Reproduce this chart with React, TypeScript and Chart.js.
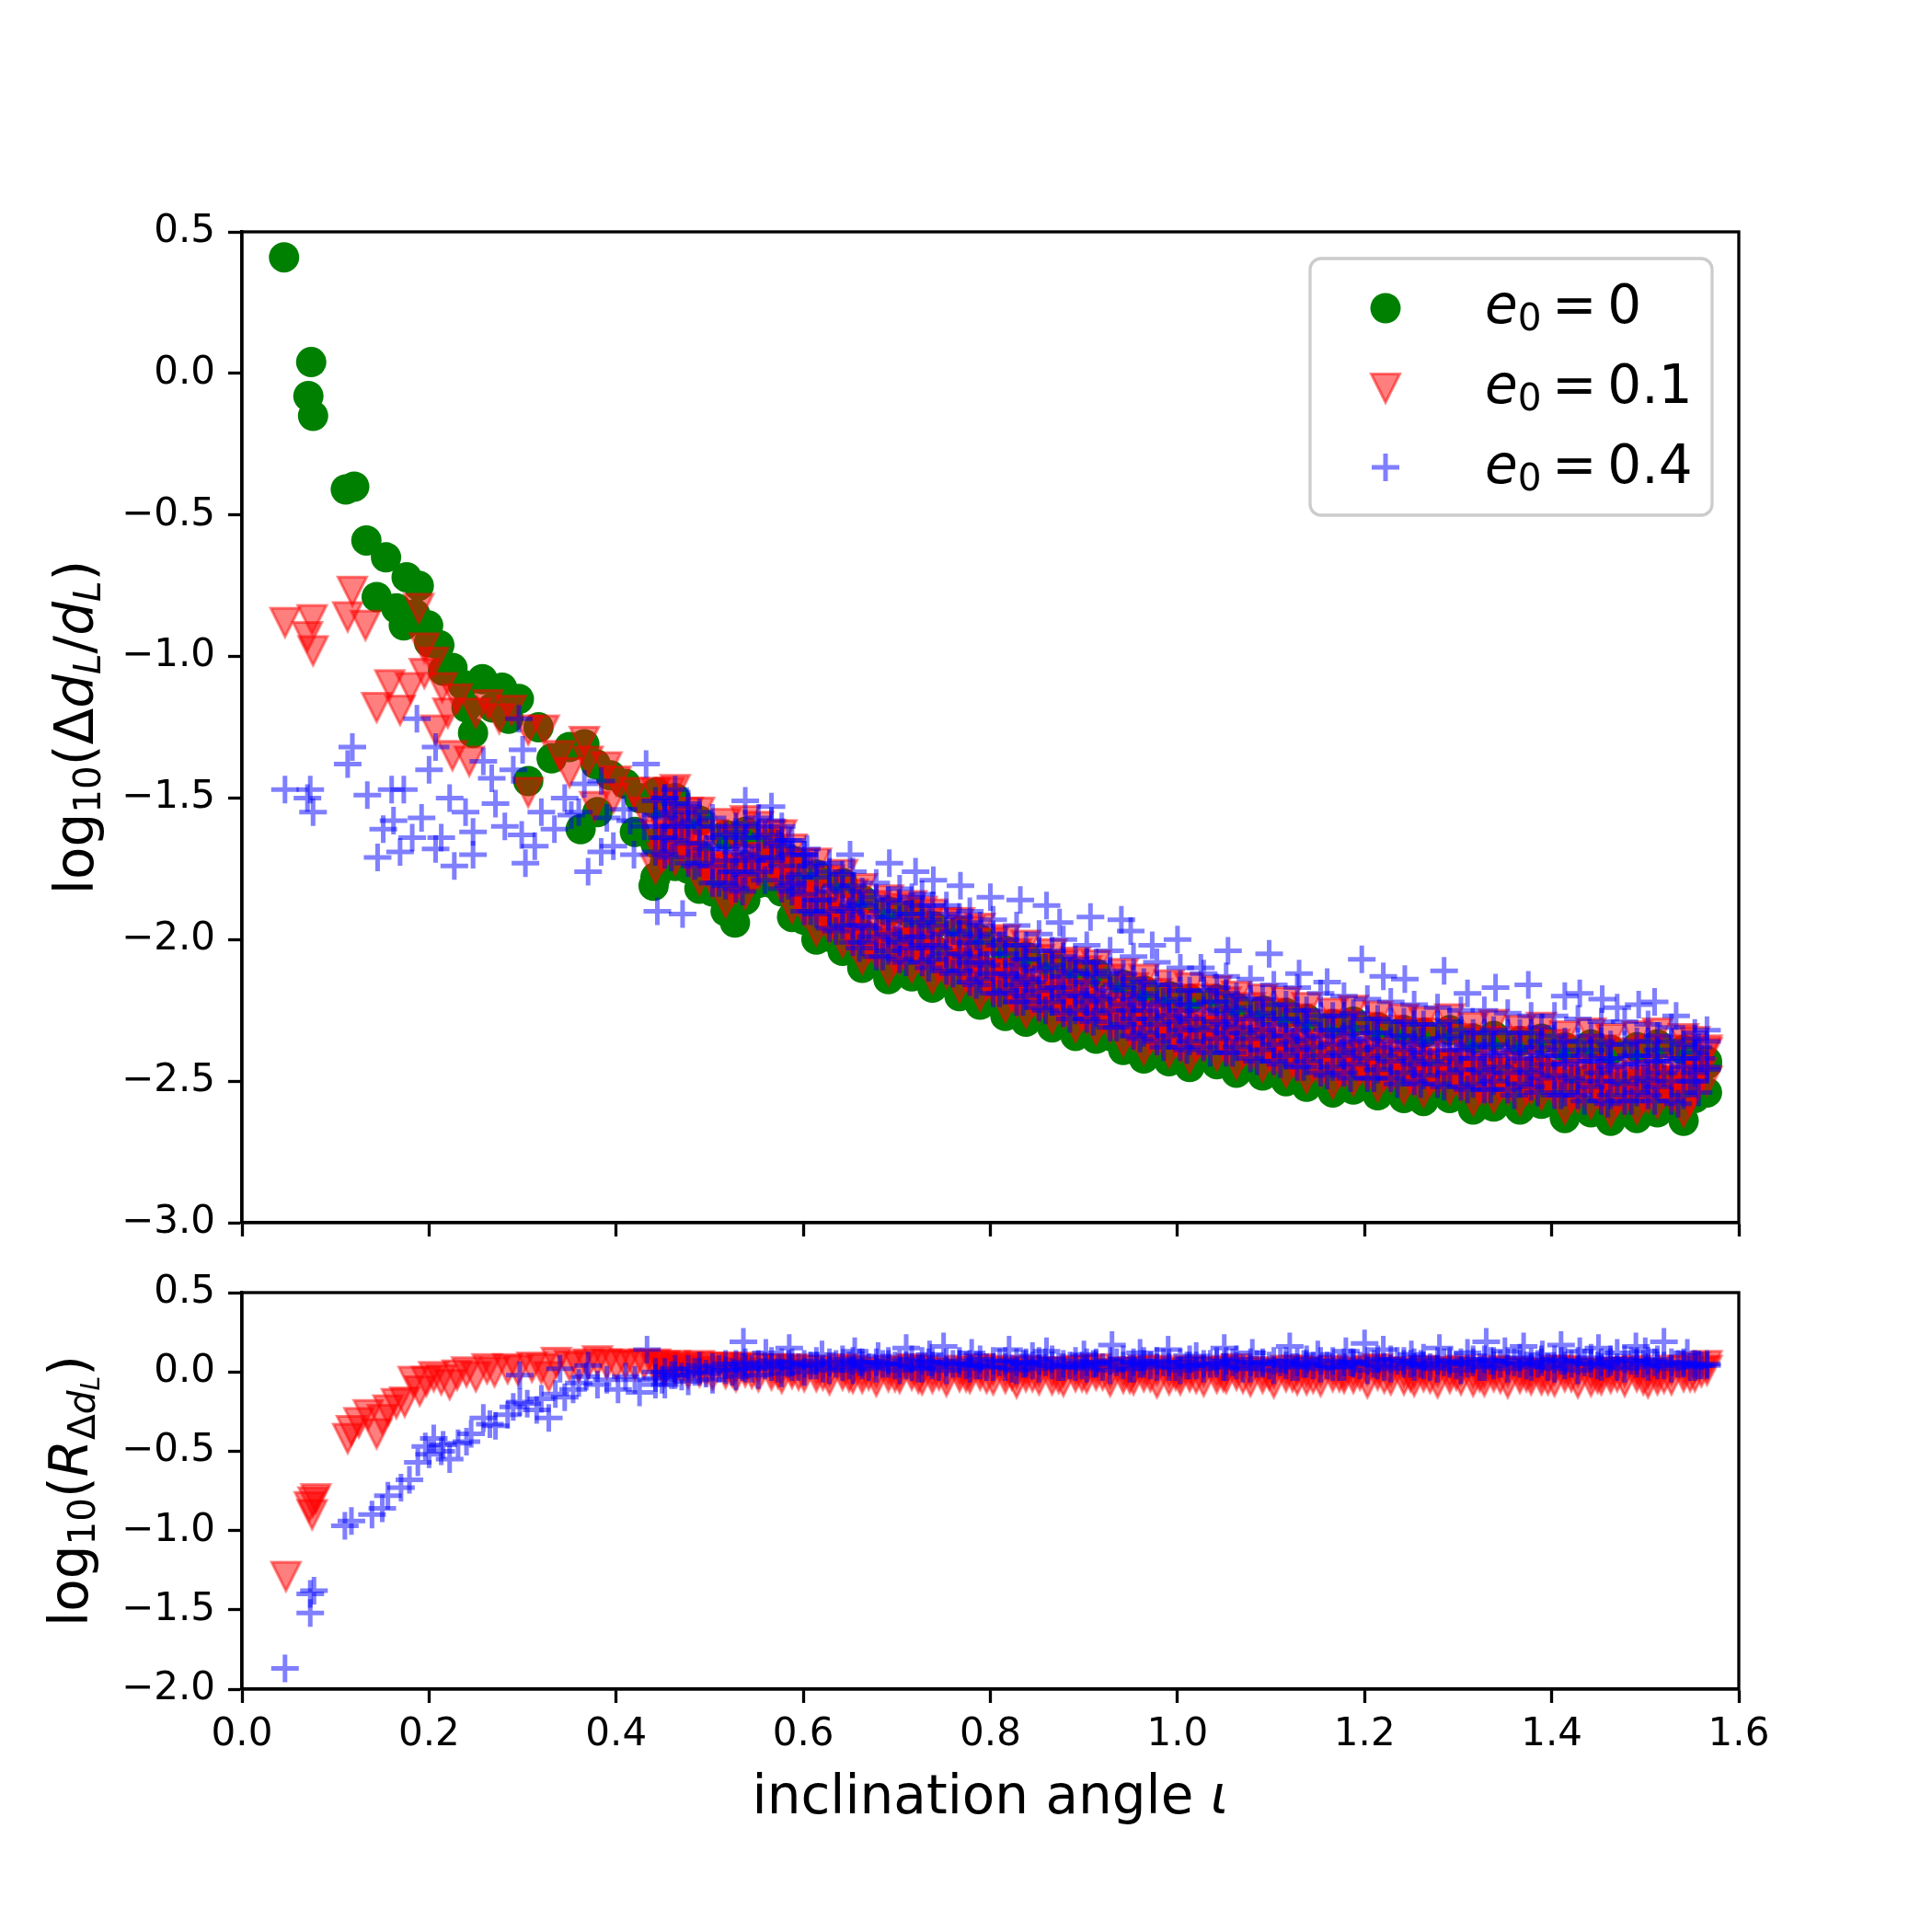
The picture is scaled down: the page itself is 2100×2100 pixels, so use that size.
import { useEffect, useRef } from "react"
import Chart from "chart.js/auto"

const FONT = '"DejaVu Sans", sans-serif'

// axis ticks
const xTicks = [0, 0.2, 0.4, 0.6, 0.8, 1.0, 1.2, 1.4, 1.6]
const yTicksTop = [-3, -2.5, -2, -1.5, -1, -0.5, 0, 0.5]
const yTicksBottom = [-2, -1.5, -1, -0.5, 0, 0.5]

// inclination columns of the dense band (iota > 0.44)
const iotaA = [
  0.442, 0.463, 0.489, 0.517, 0.538, 0.566, 0.588, 0.614, 0.642, 0.663,
  0.691, 0.716, 0.738, 0.767, 0.789, 0.816, 0.838, 0.866, 0.891, 0.913,
  0.942, 0.964, 0.991, 1.013, 1.042, 1.063, 1.091, 1.116, 1.138, 1.166,
  1.188, 1.214, 1.242, 1.263, 1.291, 1.316, 1.338, 1.366, 1.389, 1.414,
  1.442, 1.463, 1.491, 1.513, 1.541, 1.566,
]
const iotaB = [
  0.452, 0.477, 0.503, 0.528, 0.552, 0.577, 0.601, 0.628, 0.653, 0.678,
  0.703, 0.727, 0.753, 0.778, 0.803, 0.828, 0.852, 0.878, 0.903, 0.928,
  0.953, 0.978, 1.003, 1.028, 1.052, 1.078, 1.103, 1.128, 1.153, 1.178,
  1.203, 1.228, 1.253, 1.278, 1.303, 1.328, 1.353, 1.378, 1.403, 1.428,
  1.453, 1.478, 1.503, 1.528, 1.553,
]
const iotaC = [
  0.449, 0.47, 0.496, 0.524, 0.545, 0.573, 0.595, 0.621, 0.649, 0.67,
  0.698, 0.723, 0.745, 0.774, 0.796, 0.823, 0.845, 0.873, 0.898, 0.92,
  0.949, 0.971, 0.998, 1.02, 1.049, 1.07, 1.098, 1.123, 1.145, 1.173,
  1.195, 1.221, 1.249, 1.27, 1.298, 1.323, 1.345, 1.373, 1.396, 1.421,
  1.449, 1.47, 1.498, 1.52, 1.548, 1.56,
]
const iotaD = [
  0.459, 0.484, 0.51, 0.535, 0.559, 0.584, 0.608, 0.635, 0.66, 0.685,
  0.71, 0.734, 0.76, 0.785, 0.81, 0.835, 0.859, 0.885, 0.91, 0.935,
  0.96, 0.985, 1.01, 1.035, 1.059, 1.085, 1.11, 1.135, 1.16, 1.185,
  1.21, 1.235, 1.26, 1.285, 1.31, 1.335, 1.36, 1.385, 1.41, 1.435,
  1.46, 1.485, 1.51, 1.535, 1.557,
]

// ---- top panel: log10(Δd_L/d_L) ----
// e0 = 0
const g0EarlyX = [
  0.045, 0.074, 0.071, 0.076, 0.111, 0.12, 0.133, 0.154, 0.176, 0.189, 0.144, 0.165, 0.173, 0.199,
  0.211, 0.225, 0.257, 0.278, 0.247, 0.296, 0.317, 0.306, 0.331, 0.366, 0.394, 0.362, 0.443, 0.464,
  0.44, 0.527, 0.236, 0.215, 0.24, 0.268, 0.285, 0.35, 0.378, 0.41, 0.425, 0.38, 0.42, 0.2, 0.185,
]
const g0EarlyY = [
  0.41, 0.04, -0.08, -0.15, -0.41, -0.4, -0.59, -0.65, -0.72, -0.75, -0.79, -0.83, -0.89, -0.89,
  -0.96, -1.04, -1.08, -1.11, -1.27, -1.15, -1.25, -1.44, -1.36, -1.31, -1.42, -1.61, -1.48, -1.54,
  -1.81, -1.94, -1.1, -1.05, -1.18, -1.18, -1.22, -1.32, -1.38, -1.45, -1.5, -1.55, -1.62, -0.95, -0.85,
]
const g0Low = [
  -1.78, -1.74, -1.82, -1.9, -1.86, -1.8, -1.92, -2.0, -2.04, -2.1,
  -2.14, -2.13, -2.17, -2.2, -2.23, -2.27, -2.29, -2.31, -2.34, -2.35,
  -2.39, -2.42, -2.43, -2.45, -2.44, -2.47, -2.48, -2.5, -2.52, -2.54,
  -2.53, -2.55, -2.56, -2.57, -2.56, -2.6, -2.59, -2.6, -2.58, -2.63,
  -2.61, -2.64, -2.63, -2.61, -2.64, -2.54,
]
const g0LowB = [
  -1.73, -1.75, -1.83, -1.85, -1.8, -1.83, -1.93, -1.99, -2.04, -2.08,
  -2.1, -2.11, -2.15, -2.18, -2.21, -2.25, -2.27, -2.29, -2.31, -2.34,
  -2.37, -2.39, -2.41, -2.41, -2.42, -2.44, -2.46, -2.48, -2.5, -2.5,
  -2.51, -2.52, -2.53, -2.53, -2.55, -2.56, -2.56, -2.56, -2.57, -2.59,
  -2.59, -2.6, -2.59, -2.59, -2.56,
]
const g0MidA = [
  -1.66, -1.62, -1.7, -1.77, -1.74, -1.69, -1.8, -1.87, -1.93, -1.98,
  -2.01, -2.0, -2.03, -2.08, -2.1, -2.15, -2.17, -2.2, -2.22, -2.23,
  -2.27, -2.3, -2.31, -2.33, -2.32, -2.35, -2.36, -2.38, -2.4, -2.42,
  -2.41, -2.43, -2.44, -2.45, -2.44, -2.48, -2.47, -2.48, -2.46, -2.51,
  -2.49, -2.52, -2.51, -2.49, -2.52, -2.43,
]
const g0Mid = [
  -1.65, -1.7, -1.76, -1.78, -1.74, -1.82, -1.88, -1.9, -1.97, -2.02,
  -2.03, -2.04, -2.08, -2.11, -2.14, -2.17, -2.2, -2.22, -2.24, -2.26,
  -2.29, -2.31, -2.32, -2.33, -2.35, -2.36, -2.38, -2.4, -2.41, -2.42,
  -2.43, -2.44, -2.45, -2.46, -2.47, -2.48, -2.48, -2.49, -2.5, -2.5,
  -2.51, -2.52, -2.51, -2.52, -2.49,
]
const g0High = [
  -1.52, -1.5, -1.58, -1.63, -1.62, -1.66, -1.72, -1.77, -1.8, -1.86,
  -1.9, -1.91, -1.95, -1.97, -2.0, -2.04, -2.06, -2.09, -2.12, -2.12,
  -2.16, -2.18, -2.2, -2.21, -2.21, -2.24, -2.25, -2.26, -2.28, -2.3,
  -2.29, -2.31, -2.32, -2.33, -2.32, -2.35, -2.34, -2.36, -2.35, -2.38,
  -2.37, -2.39, -2.38, -2.37, -2.39, -2.44,
]

// e0 = 0.1
const r1EarlyX = [
  0.046, 0.075, 0.076, 0.07, 0.118, 0.113, 0.132, 0.189, 0.158, 0.144, 0.169, 0.18, 0.205, 0.214,
  0.207, 0.225, 0.243, 0.263, 0.288, 0.306, 0.306, 0.323, 0.366, 0.37, 0.39, 0.377, 0.397, 0.419,
  0.457, 0.468, 0.195, 0.23, 0.25, 0.275, 0.34, 0.35, 0.4, 0.43, 0.195, 0.22,
]
const r1EarlyY = [
  -0.88, -0.87, -0.98, -0.93, -0.77, -0.86, -0.89, -0.83, -1.1, -1.18, -1.19, -1.11, -1.02, -1.11,
  -1.26, -1.35, -1.37, -1.17, -1.19, -1.26, -1.48, -1.26, -1.3, -1.37, -1.39, -1.53, -1.5, -1.48,
  -1.48, -1.58, -1.06, -1.15, -1.2, -1.22, -1.35, -1.41, -1.44, -1.55, -0.97, -1.2,
]
const r1Low = [
  -1.75, -1.72, -1.79, -1.87, -1.84, -1.77, -1.89, -1.97, -2.01, -2.07,
  -2.11, -2.1, -2.14, -2.17, -2.2, -2.24, -2.26, -2.28, -2.31, -2.32,
  -2.36, -2.39, -2.4, -2.42, -2.41, -2.44, -2.45, -2.47, -2.49, -2.51,
  -2.5, -2.52, -2.53, -2.54, -2.53, -2.57, -2.56, -2.57, -2.55, -2.6,
  -2.58, -2.61, -2.6, -2.58, -2.61, -2.5,
]
const r1LowB = [
  -1.7, -1.72, -1.8, -1.82, -1.77, -1.8, -1.9, -1.96, -2.01, -2.05,
  -2.07, -2.08, -2.12, -2.15, -2.18, -2.22, -2.24, -2.26, -2.28, -2.31,
  -2.34, -2.36, -2.38, -2.38, -2.39, -2.41, -2.43, -2.45, -2.47, -2.47,
  -2.48, -2.49, -2.5, -2.5, -2.52, -2.53, -2.53, -2.53, -2.54, -2.56,
  -2.56, -2.57, -2.56, -2.56, -2.53,
]
const r1LowC = [
  -1.71, -1.67, -1.75, -1.83, -1.79, -1.73, -1.85, -1.93, -1.97, -2.03,
  -2.07, -2.06, -2.1, -2.13, -2.16, -2.2, -2.22, -2.24, -2.27, -2.28,
  -2.32, -2.35, -2.36, -2.38, -2.37, -2.4, -2.41, -2.43, -2.45, -2.47,
  -2.46, -2.48, -2.49, -2.5, -2.49, -2.53, -2.52, -2.53, -2.51, -2.56,
  -2.54, -2.57, -2.56, -2.54, -2.57, -2.47,
]
const r1Mid = [
  -1.62, -1.67, -1.74, -1.75, -1.72, -1.8, -1.85, -1.88, -1.94, -2.0,
  -2.01, -2.02, -2.05, -2.09, -2.12, -2.15, -2.18, -2.19, -2.22, -2.24,
  -2.27, -2.28, -2.3, -2.31, -2.33, -2.33, -2.36, -2.38, -2.38, -2.4,
  -2.41, -2.41, -2.43, -2.44, -2.44, -2.46, -2.45, -2.47, -2.48, -2.47,
  -2.49, -2.5, -2.48, -2.5, -2.46,
]
const r1MidD = [
  -1.64, -1.66, -1.74, -1.76, -1.71, -1.74, -1.84, -1.9, -1.95, -1.99,
  -2.01, -2.02, -2.05, -2.08, -2.12, -2.16, -2.18, -2.2, -2.22, -2.25,
  -2.28, -2.3, -2.32, -2.32, -2.33, -2.35, -2.37, -2.39, -2.41, -2.41,
  -2.42, -2.43, -2.44, -2.44, -2.46, -2.47, -2.47, -2.47, -2.48, -2.5,
  -2.5, -2.51, -2.5, -2.5, -2.47,
]
const r1MidA = [
  -1.63, -1.59, -1.67, -1.75, -1.71, -1.65, -1.77, -1.85, -1.89, -1.95,
  -1.98, -1.97, -2.0, -2.04, -2.07, -2.12, -2.14, -2.16, -2.19, -2.2,
  -2.24, -2.27, -2.28, -2.3, -2.29, -2.32, -2.33, -2.35, -2.37, -2.39,
  -2.38, -2.4, -2.41, -2.42, -2.41, -2.45, -2.44, -2.45, -2.43, -2.48,
  -2.46, -2.49, -2.48, -2.46, -2.49, -2.39,
]
const r1HighB = [
  -1.53, -1.55, -1.63, -1.65, -1.6, -1.63, -1.73, -1.79, -1.84, -1.88,
  -1.89, -1.9, -1.94, -1.97, -2.01, -2.05, -2.07, -2.09, -2.11, -2.14,
  -2.17, -2.19, -2.21, -2.21, -2.22, -2.24, -2.26, -2.28, -2.3, -2.3,
  -2.31, -2.32, -2.33, -2.33, -2.35, -2.36, -2.36, -2.36, -2.37, -2.39,
  -2.39, -2.4, -2.39, -2.39, -2.36,
]
const r1High = [
  -1.48, -1.47, -1.55, -1.59, -1.58, -1.63, -1.68, -1.73, -1.77, -1.82,
  -1.86, -1.88, -1.91, -1.94, -1.96, -2.0, -2.02, -2.05, -2.08, -2.09,
  -2.12, -2.14, -2.16, -2.17, -2.18, -2.2, -2.21, -2.22, -2.24, -2.26,
  -2.25, -2.27, -2.28, -2.29, -2.28, -2.31, -2.3, -2.32, -2.31, -2.34,
  -2.33, -2.35, -2.34, -2.33, -2.35, -2.4,
]

// e0 = 0.4
const b4EarlyX = [
  0.046, 0.073, 0.076, 0.07, 0.118, 0.113, 0.134, 0.145, 0.151, 0.162, 0.169, 0.173, 0.187, 0.192,
  0.2, 0.207, 0.207, 0.213, 0.227, 0.222, 0.239, 0.247, 0.247, 0.267, 0.271, 0.281, 0.299, 0.303,
  0.313, 0.334, 0.352, 0.37, 0.384, 0.397, 0.419, 0.366, 0.296, 0.3, 0.384, 0.408, 0.16, 0.182,
  0.258, 0.29, 0.32, 0.345, 0.36, 0.39, 0.415, 0.43,
]
const b4EarlyY = [
  -1.47, -1.47, -1.55, -1.5, -1.32, -1.38, -1.49, -1.71, -1.61, -1.58, -1.69, -1.47, -1.22, -1.57,
  -1.4, -1.32, -1.68, -1.64, -1.74, -1.5, -1.55, -1.7, -1.62, -1.43, -1.52, -1.6, -1.63, -1.73,
  -1.67, -1.61, -1.56, -1.76, -1.69, -1.67, -1.7, -1.45, -1.22, -1.33, -1.44, -1.54, -1.47, -1.64,
  -1.37, -1.4, -1.55, -1.5, -1.55, -1.57, -1.58, -1.6,
]
const b4Low = [
  -1.7, -1.73, -1.8, -1.82, -1.76, -1.82, -1.9, -1.96, -2.01, -2.06,
  -2.07, -2.08, -2.11, -2.15, -2.19, -2.22, -2.24, -2.26, -2.28, -2.31,
  -2.34, -2.36, -2.38, -2.38, -2.4, -2.42, -2.43, -2.45, -2.47, -2.47,
  -2.49, -2.49, -2.5, -2.51, -2.52, -2.53, -2.53, -2.52, -2.55, -2.55,
  -2.57, -2.57, -2.55, -2.57, -2.5,
]
const b4LowD = [
  -1.71, -1.74, -1.8, -1.83, -1.79, -1.81, -1.9, -1.97, -2.03, -2.06,
  -2.08, -2.1, -2.12, -2.16, -2.19, -2.22, -2.25, -2.28, -2.29, -2.31,
  -2.35, -2.38, -2.39, -2.4, -2.4, -2.43, -2.44, -2.45, -2.48, -2.49,
  -2.49, -2.51, -2.51, -2.52, -2.53, -2.53, -2.55, -2.54, -2.55, -2.57,
  -2.58, -2.57, -2.57, -2.58, -2.54,
]
const b4LowA = [
  -1.69, -1.65, -1.73, -1.81, -1.77, -1.71, -1.83, -1.91, -1.95, -2.01,
  -2.04, -2.03, -2.07, -2.11, -2.14, -2.18, -2.2, -2.22, -2.25, -2.26,
  -2.3, -2.33, -2.34, -2.36, -2.35, -2.38, -2.39, -2.41, -2.43, -2.45,
  -2.44, -2.46, -2.47, -2.48, -2.47, -2.51, -2.5, -2.51, -2.49, -2.54,
  -2.52, -2.55, -2.54, -2.52, -2.55, -2.45,
]
const b4LowMidB = [
  -1.64, -1.66, -1.74, -1.76, -1.71, -1.74, -1.84, -1.9, -1.95, -1.99,
  -2.01, -2.02, -2.05, -2.08, -2.12, -2.16, -2.18, -2.2, -2.22, -2.25,
  -2.28, -2.3, -2.32, -2.32, -2.33, -2.35, -2.37, -2.39, -2.41, -2.41,
  -2.42, -2.43, -2.44, -2.44, -2.46, -2.47, -2.47, -2.47, -2.48, -2.5,
  -2.5, -2.51, -2.5, -2.5, -2.47,
]
const b4MidC = [
  -1.64, -1.6, -1.68, -1.76, -1.72, -1.66, -1.78, -1.86, -1.9, -1.96,
  -2.0, -1.99, -2.03, -2.06, -2.09, -2.13, -2.15, -2.17, -2.2, -2.21,
  -2.25, -2.28, -2.29, -2.31, -2.3, -2.33, -2.34, -2.36, -2.38, -2.4,
  -2.39, -2.41, -2.42, -2.43, -2.42, -2.46, -2.45, -2.46, -2.44, -2.49,
  -2.47, -2.5, -2.49, -2.47, -2.5, -2.42,
]
const b4Mid = [
  -1.6, -1.6, -1.66, -1.72, -1.7, -1.72, -1.8, -1.86, -1.89, -1.95,
  -1.98, -1.99, -2.02, -2.05, -2.08, -2.12, -2.14, -2.17, -2.19, -2.2,
  -2.23, -2.25, -2.27, -2.28, -2.29, -2.31, -2.32, -2.34, -2.35, -2.37,
  -2.36, -2.38, -2.39, -2.4, -2.39, -2.42, -2.41, -2.42, -2.41, -2.44,
  -2.43, -2.45, -2.44, -2.43, -2.45, -2.46,
]
const b4MidB = [
  -1.57, -1.59, -1.67, -1.69, -1.64, -1.67, -1.77, -1.83, -1.88, -1.92,
  -1.93, -1.94, -1.98, -2.01, -2.05, -2.09, -2.11, -2.13, -2.15, -2.18,
  -2.21, -2.23, -2.25, -2.25, -2.26, -2.28, -2.3, -2.32, -2.34, -2.34,
  -2.35, -2.36, -2.37, -2.37, -2.39, -2.4, -2.4, -2.4, -2.41, -2.43,
  -2.43, -2.44, -2.43, -2.43, -2.4,
]
const b4UpperD = [
  -1.55, -1.58, -1.64, -1.67, -1.63, -1.65, -1.74, -1.81, -1.87, -1.9,
  -1.91, -1.93, -1.97, -1.99, -2.02, -2.07, -2.1, -2.11, -2.12, -2.16,
  -2.19, -2.22, -2.23, -2.22, -2.24, -2.27, -2.28, -2.29, -2.32, -2.33,
  -2.33, -2.34, -2.36, -2.35, -2.37, -2.38, -2.39, -2.38, -2.39, -2.41,
  -2.42, -2.41, -2.41, -2.42, -2.38,
]
const b4UpperA = [
  -1.56, -1.52, -1.6, -1.68, -1.64, -1.58, -1.7, -1.78, -1.82, -1.88,
  -1.92, -1.91, -1.95, -1.98, -2.01, -2.05, -2.07, -2.09, -2.12, -2.13,
  -2.17, -2.2, -2.21, -2.23, -2.22, -2.25, -2.26, -2.28, -2.3, -2.32,
  -2.31, -2.33, -2.34, -2.35, -2.34, -2.38, -2.37, -2.38, -2.36, -2.41,
  -2.39, -2.42, -2.41, -2.39, -2.42, -2.36,
]
const b4HighA = [
  -1.51, -1.47, -1.55, -1.63, -1.59, -1.53, -1.65, -1.73, -1.77, -1.83,
  -1.86, -1.85, -1.88, -1.92, -1.95, -2.0, -2.02, -2.04, -2.07, -2.08,
  -2.12, -2.15, -2.16, -2.18, -2.17, -2.2, -2.21, -2.23, -2.25, -2.27,
  -2.26, -2.28, -2.29, -2.3, -2.29, -2.33, -2.32, -2.33, -2.31, -2.36,
  -2.34, -2.37, -2.36, -2.34, -2.37, -2.32,
]
const b4UpperB = [
  -1.5, -1.52, -1.6, -1.62, -1.57, -1.6, -1.7, -1.76, -1.81, -1.85,
  -1.87, -1.88, -1.91, -1.94, -1.98, -2.02, -2.04, -2.06, -2.08, -2.11,
  -2.14, -2.16, -2.18, -2.18, -2.19, -2.21, -2.23, -2.25, -2.27, -2.27,
  -2.28, -2.29, -2.3, -2.3, -2.32, -2.33, -2.33, -2.33, -2.34, -2.36,
  -2.36, -2.37, -2.36, -2.36, -2.33,
]
const b4High = [
  -1.5, -1.53, -1.57, -1.6, -1.6, -1.65, -1.7, -1.73, -1.76, -1.8,
  -1.82, -1.84, -1.88, -1.9, -1.93, -1.95, -1.98, -2.0, -2.02, -2.04,
  -2.06, -2.08, -2.1, -2.12, -2.13, -2.14, -2.16, -2.17, -2.19, -2.2,
  -2.21, -2.22, -2.23, -2.24, -2.25, -2.25, -2.26, -2.27, -2.27, -2.28,
  -2.29, -2.29, -2.3, -2.31, -2.35,
]
const b4StrayX = [
  0.432, 0.538, 0.604, 0.65, 0.692, 0.739, 0.768, 0.832, 0.874, 0.907, 0.94, 0.973, 1.025,
  1.054, 1.098, 1.197, 1.243, 1.285, 1.375, 1.414, 1.454, 1.493, 1.533, 0.444, 0.471,
  1.13, 1.16, 1.22, 1.31, 1.34, 1.43, 1.47, 1.51, 0.72, 0.8, 0.86, 0.95, 1.0,
]
const b4StrayY = [
  -1.38, -1.51, -1.68, -1.7, -1.73, -1.79, -1.81, -1.86, -1.94, -1.92, -1.93, -2.02, -2.1,
  -2.04, -2.05, -2.07, -2.14, -2.11, -2.16, -2.2, -2.21, -2.23, -2.27, -1.9, -1.91,
  -2.12, -2.15, -2.13, -2.19, -2.17, -2.19, -2.24, -2.22, -1.76, -1.85, -1.88, -1.97, -2.0,
]

// ---- bottom panel: log10(R_Δd_L) ----
const rr1EarlyX = [
  0.047, 0.076, 0.075, 0.072, 0.079, 0.113, 0.117, 0.144, 0.135, 0.156, 0.174, 0.183, 0.205, 0.222,
  0.24, 0.262, 0.284, 0.328, 0.336, 0.38, 0.125, 0.15, 0.165, 0.19, 0.197, 0.213, 0.23, 0.25, 0.27,
  0.295, 0.31, 0.32, 0.35, 0.36, 0.37, 0.39, 0.4, 0.41, 0.42, 0.43,
]
const rr1EarlyY = [
  -1.29, -0.82, -0.9, -0.85, -0.8, -0.42, -0.37, -0.39, -0.27, -0.24, -0.19, -0.06, -0.03, -0.08,
  0.0, 0.02, 0.02, -0.03, 0.06, 0.07, -0.32, -0.3, -0.2, -0.12, -0.06, -0.05, -0.02, -0.03, 0.0,
  0.01, 0.03, 0.02, 0.04, 0.03, 0.05, 0.05, 0.04, 0.05, 0.04, 0.05,
]
const rr1Low = [
  0.02, 0.01, 0.0, -0.01, 0.0, -0.02, -0.01, -0.03, -0.02, -0.04,
  -0.03, -0.02, -0.04, -0.03, -0.02, -0.04, -0.03, -0.05, -0.03, -0.02,
  -0.04, -0.03, -0.05, -0.03, -0.04, -0.02, -0.04, -0.03, -0.05, -0.03,
  -0.04, -0.02, -0.05, -0.03, -0.04, -0.06, -0.03, -0.04, -0.05, -0.03,
  -0.06, -0.04, -0.03, -0.05, -0.03, 0.01,
]
const rr1LowC = [
  0.03, 0.02, 0.01, 0.0, -0.01, -0.01, -0.02, -0.02, -0.03, -0.02,
  -0.03, -0.04, -0.02, -0.03, -0.04, -0.02, -0.03, -0.04, -0.03, -0.02,
  -0.04, -0.03, -0.02, -0.04, -0.03, -0.04, -0.02, -0.03, -0.04, -0.03,
  -0.02, -0.04, -0.03, -0.04, -0.02, -0.03, -0.04, -0.03, -0.05, -0.03,
  -0.04, -0.03, -0.05, -0.04, -0.03, 0.0,
]
const rr1Bottom = [
  0.0, -0.01, -0.02, -0.03, -0.03, -0.04, -0.03, -0.05, -0.04, -0.06,
  -0.04, -0.05, -0.06, -0.04, -0.05, -0.07, -0.05, -0.06, -0.04, -0.06,
  -0.05, -0.07, -0.05, -0.06, -0.04, -0.06, -0.07, -0.05, -0.06, -0.04,
  -0.07, -0.05, -0.06, -0.07, -0.05, -0.06, -0.07, -0.05, -0.06, -0.07,
  -0.05, -0.06, -0.07, -0.05, -0.03,
]
const rr1Mid = [
  0.05, 0.04, 0.04, 0.03, 0.03, 0.02, 0.02, 0.01, 0.02, 0.0,
  0.01, 0.02, 0.0, 0.01, 0.02, 0.0, 0.01, 0.0, 0.01, 0.02,
  0.0, 0.01, 0.0, 0.01, 0.0, 0.02, 0.0, 0.01, 0.0, 0.01,
  0.0, 0.02, 0.0, 0.01, 0.0, -0.01, 0.01, 0.0, -0.01, 0.01,
  -0.01, 0.0, 0.01, -0.01, 0.01, 0.04,
]
const rr1High = [
  0.04, 0.03, 0.03, 0.02, 0.02, 0.01, 0.01, 0.0, 0.01, -0.01,
  0.0, 0.01, -0.01, 0.0, 0.01, -0.01, 0.0, 0.0, 0.01, -0.01,
  0.0, 0.01, -0.01, 0.0, 0.01, 0.0, -0.01, 0.01, 0.0, -0.01,
  0.01, 0.0, -0.01, 0.0, 0.01, -0.01, 0.0, -0.01, 0.01, 0.0,
  -0.01, 0.0, -0.01, 0.01, 0.03,
]
const rb4EarlyX = [
  0.046, 0.073, 0.073, 0.077, 0.11, 0.117, 0.139, 0.15, 0.156, 0.17, 0.179, 0.188, 0.196, 0.205,
  0.213, 0.222, 0.231, 0.245, 0.258, 0.271, 0.284, 0.297, 0.297, 0.315, 0.328, 0.345, 0.354, 0.368,
  0.38, 0.402, 0.425, 0.442, 0.34, 0.37, 0.2, 0.215, 0.24, 0.265, 0.29, 0.305, 0.32, 0.335, 0.36,
  0.39, 0.41, 0.433, 0.42,
]
const rb4EarlyY = [
  -1.87, -1.4, -1.52, -1.38, -0.97, -0.94, -0.9, -0.86, -0.78, -0.73, -0.68, -0.57, -0.47, -0.42,
  -0.5, -0.55, -0.45, -0.39, -0.29, -0.34, -0.27, -0.19, -0.02, -0.24, -0.29, -0.16, -0.11, -0.03,
  -0.08, -0.11, -0.13, -0.08, 0.02, 0.04, -0.52, -0.46, -0.44, -0.33, -0.22, -0.2, -0.17, -0.14, -0.07,
  -0.05, -0.03, 0.14, -0.05,
]
const rb4Low = [
  -0.08, -0.06, -0.05, -0.03, -0.02, -0.01, 0.0, 0.01, 0.01, 0.02,
  0.01, 0.02, 0.01, 0.02, 0.03, 0.01, 0.02, 0.03, 0.02, 0.01,
  0.02, 0.03, 0.01, 0.02, 0.03, 0.02, 0.01, 0.03, 0.02, 0.03,
  0.01, 0.02, 0.03, 0.02, 0.01, 0.03, 0.02, 0.03, 0.02, 0.01,
  0.03, 0.02, 0.03, 0.02, 0.03,
]
const rb4LowC = [
  -0.05, -0.03, -0.01, 0.0, 0.02, 0.02, 0.03, 0.02, 0.04, 0.03,
  0.04, 0.02, 0.03, 0.04, 0.03, 0.02, 0.04, 0.03, 0.04, 0.03,
  0.02, 0.04, 0.03, 0.04, 0.03, 0.02, 0.04, 0.03, 0.04, 0.03,
  0.04, 0.03, 0.05, 0.03, 0.04, 0.03, 0.05, 0.04, 0.03, 0.05,
  0.04, 0.03, 0.05, 0.04, 0.03, 0.04,
]
const rb4Mid = [
  -0.04, -0.02, 0.0, 0.01, 0.02, 0.03, 0.03, 0.04, 0.03, 0.04,
  0.05, 0.03, 0.04, 0.05, 0.04, 0.03, 0.05, 0.04, 0.03, 0.05,
  0.04, 0.05, 0.03, 0.04, 0.05, 0.04, 0.05, 0.04, 0.05, 0.03,
  0.05, 0.04, 0.05, 0.04, 0.05, 0.06, 0.04, 0.05, 0.06, 0.04,
  0.05, 0.06, 0.05, 0.04, 0.05, 0.04,
]
const rb4MidD = [
  -0.02, 0.0, 0.02, 0.03, 0.04, 0.05, 0.04, 0.05, 0.06, 0.05,
  0.04, 0.06, 0.05, 0.04, 0.06, 0.05, 0.06, 0.04, 0.05, 0.06,
  0.05, 0.06, 0.04, 0.05, 0.06, 0.05, 0.06, 0.05, 0.04, 0.06,
  0.05, 0.07, 0.05, 0.06, 0.05, 0.07, 0.06, 0.05, 0.07, 0.06,
  0.05, 0.07, 0.06, 0.05, 0.04,
]
const rb4High = [
  0.0, 0.02, 0.03, 0.05, 0.05, 0.06, 0.05, 0.06, 0.07, 0.06,
  0.05, 0.07, 0.06, 0.05, 0.07, 0.06, 0.07, 0.05, 0.06, 0.07,
  0.06, 0.07, 0.06, 0.05, 0.07, 0.06, 0.07, 0.06, 0.07, 0.06,
  0.07, 0.08, 0.06, 0.07, 0.06, 0.08, 0.07, 0.06, 0.08, 0.07,
  0.06, 0.08, 0.07, 0.06, 0.05,
]
const rb4Top = [
  0.0, 0.02, 0.04, 0.05, 0.06, 0.07, 0.06, 0.07, 0.08, 0.06,
  0.07, 0.08, 0.06, 0.07, 0.08, 0.07, 0.06, 0.08, 0.07, 0.06,
  0.08, 0.07, 0.06, 0.08, 0.07, 0.08, 0.06, 0.07, 0.08, 0.07,
  0.06, 0.08, 0.07, 0.09, 0.07, 0.08, 0.07, 0.09, 0.08, 0.07,
  0.09, 0.08, 0.07, 0.08, 0.06, 0.05,
]
const rb4StrayX = [
  0.536, 0.56, 0.585, 0.62, 0.655, 0.68, 0.71, 0.735, 0.75, 0.78,
  0.82, 0.845, 0.86, 0.9, 0.93, 0.96, 0.99, 1.02, 1.05, 1.08,
  1.12, 1.15, 1.18, 1.2, 1.22, 1.25, 1.28, 1.31, 1.33, 1.35,
  1.37, 1.39, 1.41, 1.43, 1.45, 1.47, 1.49, 1.5, 1.52, 1.545,
]
const rb4StrayY = [
  0.19, 0.12, 0.15, 0.11, 0.13, 0.1, 0.15, 0.11, 0.16, 0.12,
  0.14, 0.1, 0.13, 0.11, 0.17, 0.12, 0.14, 0.1, 0.15, 0.12,
  0.16, 0.11, 0.13, 0.18, 0.14, 0.11, 0.15, 0.12, 0.19, 0.13,
  0.16, 0.11, 0.17, 0.13, 0.15, 0.12, 0.16, 0.13, 0.19, 0.12,
]

const GREEN = "#008000"
const RED = "rgba(255,0,0,0.5)"
const BLUE = "rgba(0,0,255,0.5)"

// figure frame in pixels (2100 x 2100 figure)
const LEFT = 263
const RIGHT = 1890
const TOP1 = 252
const BOTTOM1 = 1329
const TOP2 = 1405
const BOTTOM2 = 1836

const pts = (xs: number[], ys: number[]) => xs.map((x, i) => ({ x, y: ys[i] }))
const fmt = (v: number | string) => Number(v).toFixed(1).replace("-", "\u2212")

type Seg = { t: string; it?: boolean; lv?: number; pad?: number }

function drawRich(ctx: CanvasRenderingContext2D, segs: Seg[], size: number, x: number, y: number, align: "left" | "center") {
  const fontOf = (s: Seg) => `${s.it ? "italic " : ""}${(size * Math.pow(0.7, s.lv ?? 0)).toFixed(2)}px ${FONT}`
  const widths = segs.map((s) => {
    ctx.font = fontOf(s)
    return ctx.measureText(s.t).width + 2 * (s.pad ?? 0) * size
  })
  const total = widths.reduce((a, b) => a + b, 0)
  let cx = align === "center" ? x - total / 2 : x
  ctx.textAlign = "left"
  ctx.textBaseline = "alphabetic"
  ctx.fillStyle = "#000"
  segs.forEach((s, i) => {
    ctx.font = fontOf(s)
    const lv = s.lv ?? 0
    const dy = lv === 0 ? 0 : lv === 1 ? 0.13 * size : 0.22 * size
    ctx.fillText(s.t, cx + (s.pad ?? 0) * size, y + dy)
    cx += widths[i]
  })
}

function makeTriangle() {
  const c = document.createElement("canvas")
  c.width = 40
  c.height = 40
  const g = c.getContext("2d")!
  g.beginPath()
  g.moveTo(4.5, 4.5)
  g.lineTo(35.5, 4.5)
  g.lineTo(20, 35.5)
  g.closePath()
  g.fillStyle = RED
  g.fill()
  g.lineWidth = 3
  g.strokeStyle = RED
  g.stroke()
  return c
}

function xScale(labels: boolean, height: number) {
  return {
    type: "linear" as const,
    position: "bottom" as const,
    min: 0,
    max: 1.6,
    afterBuildTicks: (s: any) => {
      s.ticks = xTicks.map((value) => ({ value }))
    },
    afterFit: (s: any) => {
      s.height = height
    },
    ticks: {
      callback: (v: any) => (labels ? fmt(v) : ""),
      font: { family: FONT, size: 42 },
      color: "#000",
      padding: 10,
      maxRotation: 0,
      autoSkip: false,
    },
    grid: { display: true, drawOnChartArea: false, drawTicks: true, tickLength: 15, tickWidth: 3.3, tickColor: "#000" },
    border: { display: true, color: "#000", width: 3.3 },
  }
}

function yScale(min: number, max: number, ticks: number[]) {
  return {
    type: "linear" as const,
    position: "left" as const,
    min,
    max,
    afterBuildTicks: (s: any) => {
      s.ticks = ticks.map((value) => ({ value }))
    },
    afterFit: (s: any) => {
      s.width = LEFT
    },
    ticks: {
      callback: (v: any) => fmt(v),
      font: { family: FONT, size: 42 },
      color: "#000",
      padding: 14,
      autoSkip: false,
    },
    grid: { display: true, drawOnChartArea: false, drawTicks: true, tickLength: 15, tickWidth: 3.3, tickColor: "#000" },
    border: { display: true, color: "#000", width: 3.3 },
  }
}

const framePlugin = {
  id: "frame",
  afterDatasetsDraw(chart: Chart) {
    const { ctx, chartArea: a } = chart
    ctx.save()
    ctx.strokeStyle = "#000"
    ctx.lineWidth = 3.3
    ctx.strokeRect(a.left, a.top, a.right - a.left, a.bottom - a.top)
    ctx.restore()
  },
}

const App = () => {
  const topRef = useRef<HTMLCanvasElement>(null)
  const botRef = useRef<HTMLCanvasElement>(null)

  useEffect(() => {
    if (!topRef.current || !botRef.current) return
    Chart.defaults.font.family = FONT
    const tri = makeTriangle()

    const legendLabels: Seg[][] = [
      [{ t: "e", it: true }, { t: "0", lv: 1 }, { t: "=", pad: 0.2 }, { t: "0" }],
      [{ t: "e", it: true }, { t: "0", lv: 1 }, { t: "=", pad: 0.2 }, { t: "0.1" }],
      [{ t: "e", it: true }, { t: "0", lv: 1 }, { t: "=", pad: 0.2 }, { t: "0.4" }],
    ]

    const topDecor = {
      id: "topDecor",
      afterDraw(chart: Chart) {
        const ctx = chart.ctx
        ctx.save()
        // legend frame
        const x0 = 1424, y0 = 281, x1 = 1861, y1 = 560, rr = 12
        ctx.beginPath()
        ctx.moveTo(x0 + rr, y0)
        ctx.arcTo(x1, y0, x1, y1, rr)
        ctx.arcTo(x1, y1, x0, y1, rr)
        ctx.arcTo(x0, y1, x0, y0, rr)
        ctx.arcTo(x0, y0, x1, y0, rr)
        ctx.closePath()
        ctx.fillStyle = "rgba(255,255,255,0.8)"
        ctx.fill()
        ctx.strokeStyle = "#cccccc"
        ctx.lineWidth = 3.3
        ctx.stroke()
        // legend markers
        ctx.beginPath()
        ctx.arc(1506, 335, 16.5, 0, Math.PI * 2)
        ctx.fillStyle = GREEN
        ctx.fill()
        ctx.drawImage(tri, 1506 - 20, 422 - 20)
        ctx.beginPath()
        ctx.moveTo(1491, 508)
        ctx.lineTo(1521, 508)
        ctx.moveTo(1506, 493)
        ctx.lineTo(1506, 523)
        ctx.strokeStyle = BLUE
        ctx.lineWidth = 5
        ctx.stroke()
        // legend text
        const bases = [351, 438, 525]
        legendLabels.forEach((segs, i) => drawRich(ctx, segs, 58, 1614, bases[i], "left"))
        // y label, top panel
        ctx.translate(101, (TOP1 + BOTTOM1) / 2)
        ctx.rotate(-Math.PI / 2)
        drawRich(
          ctx,
          [
            { t: "log" }, { t: "10", lv: 1 }, { t: "(Δ" }, { t: "d", it: true }, { t: "L", it: true, lv: 1 },
            { t: "/" }, { t: "d", it: true }, { t: "L", it: true, lv: 1 }, { t: ")" },
          ],
          58, 0, 0, "center",
        )
        ctx.restore()
      },
    }

    const botDecor = {
      id: "botDecor",
      afterDraw(chart: Chart) {
        const ctx = chart.ctx
        ctx.save()
        drawRich(ctx, [{ t: "inclination angle " }, { t: "ι", it: true }], 58, (LEFT + RIGHT) / 2, 1971, "center")
        ctx.translate(95, (TOP2 + BOTTOM2) / 2)
        ctx.rotate(-Math.PI / 2)
        drawRich(
          ctx,
          [
            { t: "log" }, { t: "10", lv: 1 }, { t: "(" }, { t: "R", it: true }, { t: "Δ", lv: 1 },
            { t: "d", it: true, lv: 1 }, { t: "L", it: true, lv: 2 }, { t: ")" },
          ],
          58, 0, 0, "center",
        )
        ctx.restore()
      },
    }

    const greenSet = {
      label: "e0 = 0",
      data: [
        ...pts(g0EarlyX, g0EarlyY), ...pts(iotaA, g0Low), ...pts(iotaB, g0LowB), ...pts(iotaA, g0MidA),
        ...pts(iotaB, g0Mid), ...pts(iotaA, g0High),
      ],
      pointStyle: "circle" as const,
      pointRadius: 16.5,
      pointBackgroundColor: GREEN,
      pointBorderWidth: 0,
    }
    const redTop = {
      label: "e0 = 0.1",
      data: [
        ...pts(r1EarlyX, r1EarlyY), ...pts(iotaA, r1Low), ...pts(iotaB, r1LowB), ...pts(iotaC, r1LowC),
        ...pts(iotaB, r1Mid), ...pts(iotaD, r1MidD), ...pts(iotaA, r1MidA), ...pts(iotaB, r1HighB),
        ...pts(iotaA, r1High),
      ],
      pointStyle: tri,
      pointRadius: 18,
    }
    const blueTop = {
      label: "e0 = 0.4",
      data: [
        ...pts(b4EarlyX, b4EarlyY), ...pts(iotaB, b4Low), ...pts(iotaD, b4LowD), ...pts(iotaA, b4LowA),
        ...pts(iotaB, b4LowMidB), ...pts(iotaC, b4MidC), ...pts(iotaA, b4Mid), ...pts(iotaB, b4MidB),
        ...pts(iotaD, b4UpperD), ...pts(iotaA, b4UpperA), ...pts(iotaA, b4HighA), ...pts(iotaB, b4UpperB),
        ...pts(iotaB, b4High), ...pts(b4StrayX, b4StrayY),
      ],
      pointStyle: "cross" as const,
      pointRadius: 15,
      pointBorderColor: BLUE,
      pointBorderWidth: 5,
    }
    const redBot = {
      label: "e0 = 0.1",
      data: [
        ...pts(rr1EarlyX, rr1EarlyY), ...pts(iotaB, rr1Bottom), ...pts(iotaA, rr1Low), ...pts(iotaC, rr1LowC),
        ...pts(iotaB, rr1High), ...pts(iotaA, rr1Mid),
      ],
      pointStyle: tri,
      pointRadius: 18,
    }
    const blueBot = {
      label: "e0 = 0.4",
      data: [
        ...pts(rb4EarlyX, rb4EarlyY), ...pts(iotaB, rb4Low), ...pts(iotaC, rb4LowC), ...pts(iotaA, rb4Mid),
        ...pts(iotaD, rb4MidD), ...pts(iotaB, rb4High), ...pts(iotaA, rb4Top), ...pts(rb4StrayX, rb4StrayY),
      ],
      pointStyle: "cross" as const,
      pointRadius: 15,
      pointBorderColor: BLUE,
      pointBorderWidth: 5,
    }

    const common = {
      responsive: false,
      animation: false as const,
      devicePixelRatio: 1,
      events: [] as any[],
      plugins: { legend: { display: false }, tooltip: { enabled: false } },
    }

    // datasets listed last-drawn-first: blue ends on top of red, red on top of green
    const top = new Chart(topRef.current, {
      type: "scatter",
      data: { datasets: [blueTop, redTop, greenSet] as any },
      options: {
        ...common,
        layout: { padding: { left: 0, right: 2100 - RIGHT, top: TOP1, bottom: 2100 - BOTTOM1 - 40 } },
        scales: { x: xScale(false, 40), y: yScale(-3, 0.5, yTicksTop) } as any,
      },
      plugins: [framePlugin, topDecor],
    })

    const bot = new Chart(botRef.current, {
      type: "scatter",
      data: { datasets: [blueBot, redBot] as any },
      options: {
        ...common,
        layout: { padding: { left: 0, right: 2100 - RIGHT, top: TOP2, bottom: 2100 - BOTTOM2 - 90 } },
        scales: { x: xScale(true, 90), y: yScale(-2, 0.5, yTicksBottom) } as any,
      },
      plugins: [framePlugin, botDecor],
    })

    return () => {
      top.destroy()
      bot.destroy()
    }
  }, [])

  const canvasStyle = { position: "absolute" as const, left: 0, top: 0, width: 2100, height: 2100 }
  return (
    <div style={{ position: "absolute", left: 0, top: 0, width: 2100, height: 2100, background: "#fff" }}>
      <canvas ref={topRef} width={2100} height={2100} style={canvasStyle} />
      <canvas ref={botRef} width={2100} height={2100} style={canvasStyle} />
    </div>
  )
}

export default App
